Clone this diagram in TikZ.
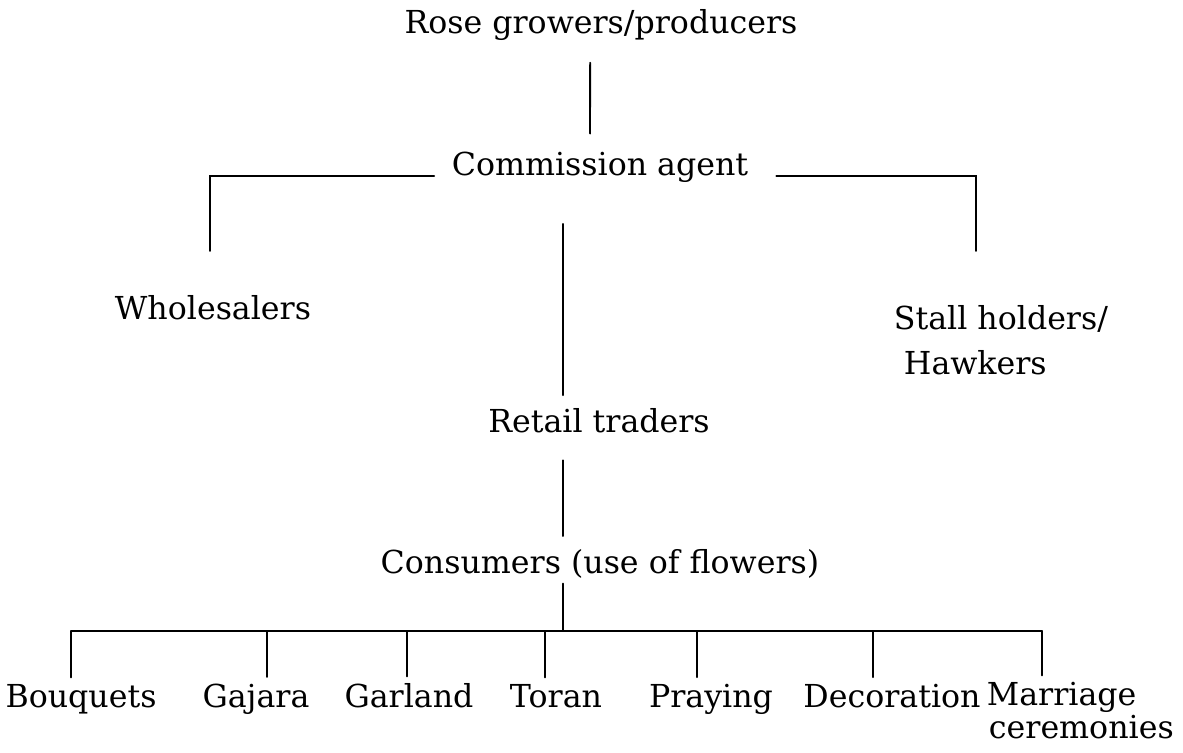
\documentclass[tikz,border=0pt]{standalone}
\usepackage{fontspec}
\setmainfont{DejaVu Serif}
\begin{document}
\begin{tikzpicture}[x=0.025cm, y=-0.025cm, font=\fontsize{22.5}{25}\selectfont, line width=1.3pt, line cap=round,
  lbl/.style={inner sep=0pt, anchor=base}]
 \useasboundingbox (0,0) rectangle (1183,753);
 \node[lbl] (rose) at (601,34) {Rose growers/producers};
 \node[lbl] (comm) at (600,176) {Commission agent};
 \node[lbl] (whole) at (213,320) {Wholesalers};
 \node[lbl, anchor=north west, align=left] (stall) at (893,305) {Stall holders/\\[7pt]\hspace*{0.25cm}Hawkers};
 \node[lbl] (retail) at (599,433) {Retail traders};
 \node[lbl] (cons) at (600,573) {Consumers (use of flowers)};
 \coordinate (spine) at (563,0);
 \coordinate (wtop) at (210,251);
 \coordinate (stop) at (976,251);
 \draw[shorten <=0.52cm, shorten >=0.45cm] ([xshift=-0.27cm]rose.south) -- ([xshift=-0.25cm]comm.north);
 \draw ([xshift=-0.42cm]comm.base west) -| (wtop);
 \draw ([xshift=0.68cm]comm.base east) -| (stop);
 \draw[shorten <=1cm, shorten >=0.32cm] (comm.south -| spine) -- (retail.north -| spine);
 \draw[shorten <=0.65cm, shorten >=0.3cm] (retail.south -| spine) -- (cons.north -| spine);
 % uses of flowers
 \foreach \nm/\dx/\cx/\txt in {bq/71/81/Bouquets, gj/267/256/Gajara, gl/407/409/Garland,
   tr/545/556/Toran, pr/697/711/Praying, dc/873/892/Decoration}{
   \coordinate (d\nm) at (\dx,631);
   \node[lbl] (\nm) at (\cx,707) {\txt};
   \draw[shorten >=4pt] (d\nm) -- (d\nm |- \nm.north);
 }
 \coordinate (dmr) at (1042,631);
 \node[lbl, anchor=north west, align=left] (mr) at (986,681) {Marriage\\[-1pt]\hspace*{0.05cm}ceremonies};
 \draw[shorten >=4pt] (dmr) -- (dmr |- mr.north);
 \draw (dbq) -- (dmr);
 \draw[shorten <=0.12cm] (cons.south -| spine) -- (spine |- dbq);
\end{tikzpicture}
\end{document}
